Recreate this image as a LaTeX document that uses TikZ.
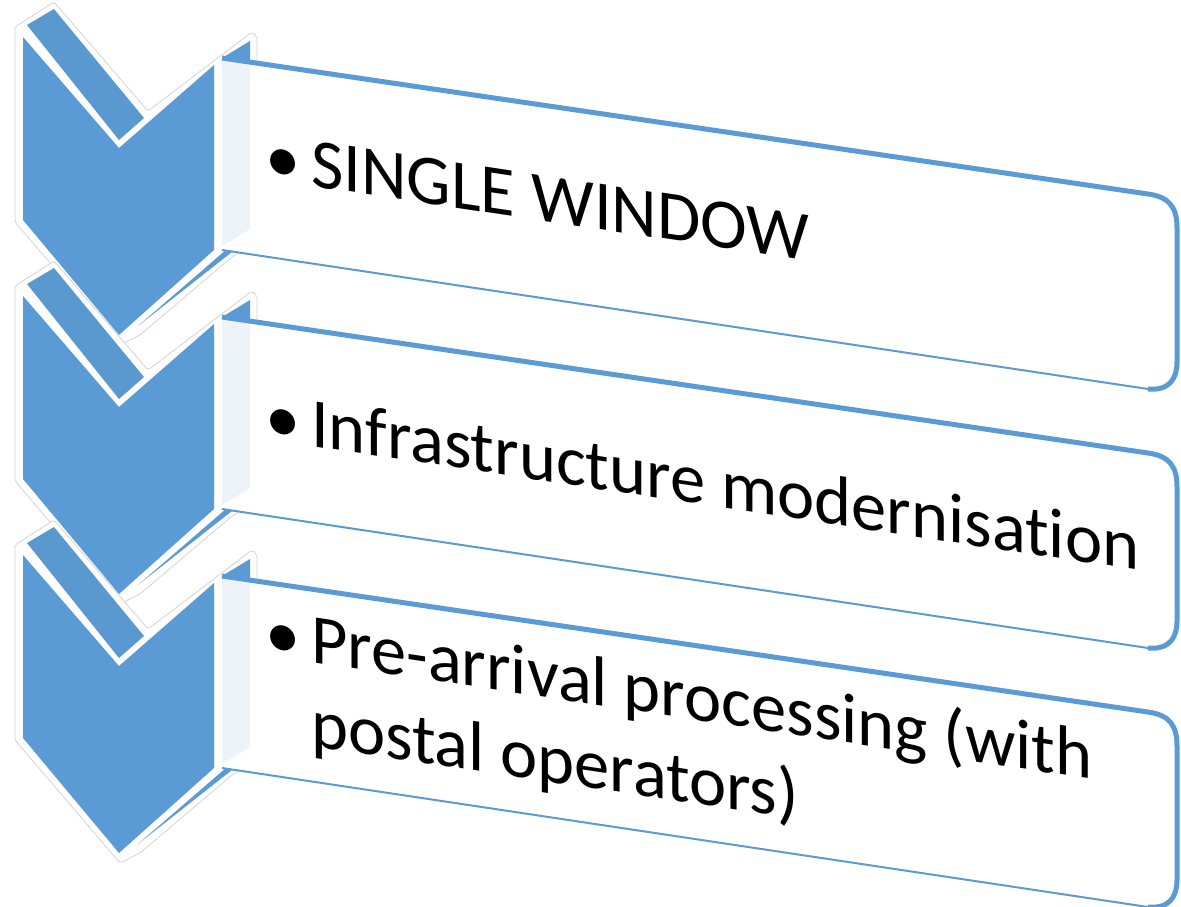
\documentclass[tikz,border=0pt]{standalone}
\usepackage{fontspec}
\setmainfont{Carlito}[Ligatures=NoCommon]
\definecolor{cblue}{HTML}{5B9BD5}
\definecolor{cstripe}{HTML}{5A99CF}
\definecolor{cpanel}{HTML}{EEF3FA}
\definecolor{chalo}{HTML}{D4D4D4}
\begin{document}
\begin{tikzpicture}[x=1pt,y=-1pt,
  halo/.style={fill=white, draw=chalo, line width=0.8pt, line join=round, rounded corners=2pt},
  face/.style={fill=cblue},
  stripe/.style={fill=cstripe},
  panel/.style={fill=cpanel},
  boxface/.style={fill=white},
  boxedge/.style={draw=cblue, line width=5pt, line join=round},
  boxthin/.style={draw=cblue, line width=2pt},
  label/.style={anchor=base west, yslant=-0.15, inner sep=0pt, font=\fontsize{70.5}{84}\selectfont}
]
\useasboundingbox (0,0) rectangle (1181,906);
% halos
\foreach \k in {0,1,2}{
\begin{scope}[shift={(0,259*\k)}]
\path[halo] (15,27) -- (54,2) -- (148,111) -- (252,32) -- (257,37) -- (257,242) -- (232,257) -- (140,335) -- (120,345) -- (15,222) -- cycle;
\end{scope}
}
% chevrons and boxes
\foreach \k in {0,1,2}{
\begin{scope}[shift={(0,259*\k)}]
\fill[face] (23,37) -- (23,220) -- (119,335) -- (214,250) -- (214,65) -- (119,148) -- cycle;
\fill[stripe] (27,25) -- (54,9) -- (144,118) -- (119,140) -- cycle;
\fill[face] (138,326) -- (227,249) -- (232,252) -- cycle;
\fill[boxface] (222,58) -- (1148,194) .. controls (1170,197) and (1177,208) .. (1177,228) -- (1177,362) .. controls (1177,378) and (1170,391) .. (1148,389) -- (222,250) -- cycle;
\fill[panel] (222,60) -- (250,62) -- (250,229) -- (222,246) -- cycle;
\fill[face] (222,58) -- (250,41) -- (250,62) -- cycle;
\draw[boxedge] (222,58) -- (1148,194) .. controls (1170,197) and (1177,208) .. (1177,228) -- (1177,362) .. controls (1177,378) and (1170,391) .. (1148,389);
\draw[boxthin] (1148,389) -- (222,250);
\end{scope}
}
% texts
\node[label] (b1) at (265,179) {•};
\node[label] (t1) at (311,186) {SINGLE WINDOW};
\node[label] (b2) at (265,439) {•};
\node[label] (t2) at (311,446) {Infrastructure modernisation};
\node[label] (b3) at (265,655) {•};
\node[label] (t3a) at (311,662) {Pre-arrival processing (with};
\node[label] (t3b) at (311,746) {postal operators)};
\end{tikzpicture}
\end{document}
